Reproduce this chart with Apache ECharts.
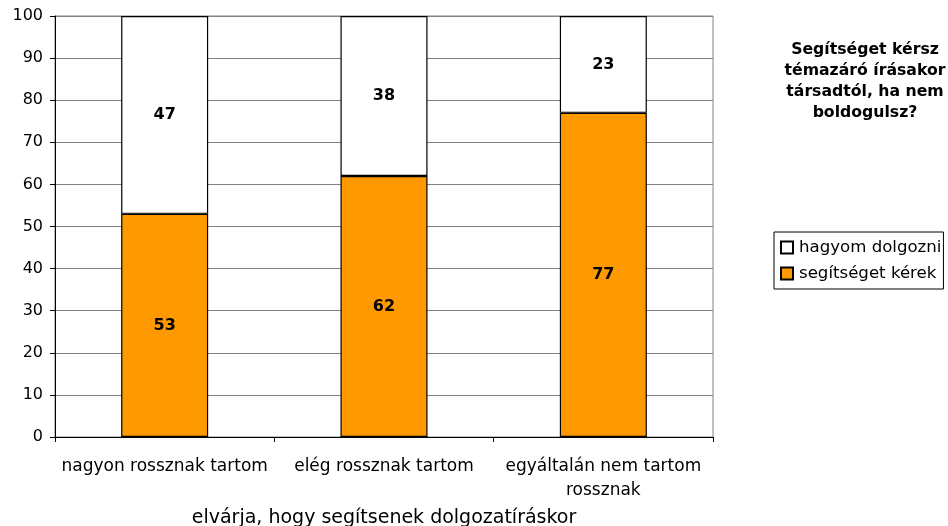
<!DOCTYPE html>
<html><head><meta charset="utf-8">
<script src="https://cdn.jsdelivr.net/npm/echarts@6/dist/echarts.min.js"></script>
<style>html,body{margin:0;padding:0;background:#fff}#c{width:948px;height:526px}</style>
</head><body><div id="c"></div>
<script>
const categories = ['nagyon rossznak tartom', 'elég rossznak tartom', 'egyáltalán nem tartom\nrossznak'];
const segitseget = [53, 62, 77];
const hagyom = [47, 38, 23];
const yTicks = [0, 10, 20, 30, 40, 50, 60, 70, 80, 90, 100];
const titleText = 'Segítséget kérsz\ntémazáró írásakor\ntársadtól, ha nem\nboldogulsz?';
const xName = 'elvárja, hogy segítsenek dolgozatíráskor';

const chart = echarts.init(document.getElementById('c'));
const font = 'DejaVu Sans, sans-serif';
chart.setOption({
  animation: false,
  textStyle: { fontFamily: font },
  title: {
    text: titleText, left: 860, top: 34, textAlign: 'center',
    textStyle: { fontFamily: font, fontSize: 15.7, fontWeight: 'bold', color: '#000', lineHeight: 21 }
  },
  legend: {
    orient: 'vertical', left: 774, top: 232,
    data: ['hagyom dolgozni', 'segítséget kérek'],
    icon: 'rect', itemWidth: 12, itemHeight: 12, itemGap: 9,
    borderColor: '#000', borderWidth: 1, borderRadius: 0,
    padding: [7, 2, 7, 6],
    textStyle: { fontFamily: font, fontSize: 16.6, color: '#000', padding: [0, 0, 0, 1] }
  },
  grid: { left: 55, right: 235, top: 16, bottom: 89, containLabel: false, outerBoundsMode: 'none' },
  xAxis: {
    type: 'category', data: categories,
    name: xName, nameLocation: 'middle', nameGap: 72,
    nameTextStyle: { fontFamily: font, fontSize: 19, color: '#000' },
    axisLine: { lineStyle: { color: '#000', width: 1 } },
    axisTick: { show: true, length: 5, lineStyle: { color: '#000' } },
    axisLabel: { fontFamily: font, fontSize: 17, color: '#000', margin: 18, lineHeight: 24, interval: 0 },
    splitLine: { show: false }
  },
  yAxis: {
    type: 'value', min: 0, max: 100, interval: 10,
    axisLine: { show: true, lineStyle: { color: '#000', width: 1 } },
    axisTick: { show: true, length: 5, lineStyle: { color: '#000' } },
    axisLabel: { fontFamily: font, fontSize: 16, color: '#000', margin: 12 },
    splitLine: { show: true, lineStyle: { color: '#808080', width: 1 } }
  },
  graphic: [{
    type: 'rect', shape: { x: 55, y: 16, width: 658, height: 421 },
    style: { fill: 'none', stroke: '#808080', lineWidth: 1 }, z: -1, silent: true
  }],
  series: [
    {
      name: 'segítséget kérek', type: 'bar', stack: 's', data: segitseget, barWidth: 87,
      itemStyle: { color: '#FF9900', borderColor: '#000', borderWidth: 1.2 },
      label: { show: true, position: 'inside', fontFamily: font, fontSize: 16, fontWeight: 'bold', color: '#000' }
    },
    {
      name: 'hagyom dolgozni', type: 'bar', stack: 's', data: hagyom, barWidth: 87,
      itemStyle: { color: '#FFFFFF', borderColor: '#000', borderWidth: 1.2 },
      label: { show: true, position: 'inside', fontFamily: font, fontSize: 16, fontWeight: 'bold', color: '#000' }
    }
  ]
});
</script></body></html>
